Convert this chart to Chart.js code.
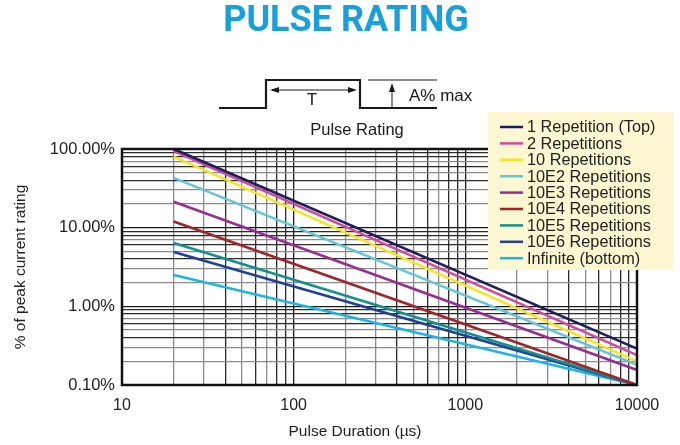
<!DOCTYPE html>
<html>
<head>
<meta charset="utf-8">
<script src="https://cdn.jsdelivr.net/npm/chart.js@4/dist/chart.umd.min.js"></script>
<style>
  body { margin: 0; background: #fff; }
  .chart { position: relative; width: 680px; height: 445px; }
</style>
</head>
<body>
<div class="chart"><canvas class="chart__chart"></canvas></div>
<script>
// pulse duration (µs) where each curve starts and ends
const durations = [20, 10000];

const seriesNames = [
    "1 Repetition (Top)", "2 Repetitions", "10 Repetitions",
    "10E2 Repetitions", "10E3 Repetitions", "10E4 Repetitions",
    "10E5 Repetitions", "10E6 Repetitions", "Infinite (bottom)"
];

// % of peak current rating at 20 µs and at 10000 µs
const startPct = [100, 94, 80, 43, 21.4, 12, 6.4, 4.9, 2.5];
const endPct = [0.29, 0.24, 0.2, 0.18, 0.155, 0.1, 0.1, 0.1, 0.1];

const seriesColors = [
    "#1d1f5c", "#d4489c", "#f6e51c", "#62c6d9", "#982d91",
    "#a3232a", "#12908b", "#21409a", "#1cb5e5"
];

const xDecades = [10, 100, 1000, 10000];
const yDecades = [0.1, 1, 10, 100];

const FONT = "'Liberation Sans', Arial, sans-serif";

function logTicks(decades) {
    const out = [];
    for (let i = 0; i < decades.length - 1; i++) {
        for (let m = 1; m <= 9; m++) out.push({ value: m * decades[i] });
    }
    out.push({ value: decades[decades.length - 1] });
    return out;
}

function isDecade(v, decades) {
    return decades.some(d => Math.abs(d - v) < d * 1e-6);
}

function gridColor(v) {
    const m = Math.round(v / Math.pow(10, Math.floor(Math.log10(v) + 1e-9)));
    if (m === 1) return "#1a1a1a";
    if ([2, 3, 5, 7].includes(m)) return "#8c8c8c";
    return "#2b2b2b";
}

function arrowHead(ctx, x, y, dir) {
    // dir: 'left' | 'right' | 'up'
    ctx.beginPath();
    if (dir === "left") { ctx.moveTo(x, y); ctx.lineTo(x + 9, y - 3); ctx.lineTo(x + 9, y + 3); }
    if (dir === "right") { ctx.moveTo(x, y); ctx.lineTo(x - 9, y - 3); ctx.lineTo(x - 9, y + 3); }
    if (dir === "up") { ctx.moveTo(x, y); ctx.lineTo(x - 3, y + 9); ctx.lineTo(x + 3, y + 9); }
    ctx.closePath();
    ctx.fill();
}

const decor = {
    id: "decor",
    afterDraw: (chart) => {
        const { ctx, chartArea: a } = chart;
        ctx.save();

        // frame round the plot
        ctx.strokeStyle = "#111";
        ctx.lineWidth = 2.5;
        ctx.strokeRect(a.left, a.top, a.right - a.left, a.bottom - a.top);

        // title
        ctx.fillStyle = "#199fdb";
        ctx.font = "bold 36px Roboto, " + FONT;
        ctx.textAlign = "center";
        ctx.textBaseline = "middle";
        ctx.fillText("PULSE RATING", 346, 22);

        // x axis title
        ctx.fillStyle = "#222";
        ctx.font = "15.5px " + FONT;
        ctx.fillText("Pulse Duration (µs)", 355, 432);

        // pulse sketch
        ctx.strokeStyle = "#1a1a1a";
        ctx.fillStyle = "#1a1a1a";
        ctx.lineWidth = 2.2;
        ctx.beginPath();
        ctx.moveTo(219, 108);
        ctx.lineTo(266, 108);
        ctx.lineTo(266, 80);
        ctx.lineTo(360, 80);
        ctx.lineTo(360, 108);
        ctx.lineTo(437, 108);
        ctx.stroke();

        ctx.lineWidth = 1;
        ctx.beginPath();
        ctx.moveTo(368, 80); ctx.lineTo(437, 80);
        ctx.moveTo(272, 90); ctx.lineTo(354, 90);
        ctx.moveTo(392, 108); ctx.lineTo(392, 86);
        ctx.stroke();
        arrowHead(ctx, 270, 90, "left");
        arrowHead(ctx, 357, 90, "right");
        arrowHead(ctx, 392, 83, "up");

        ctx.font = "17px " + FONT;
        ctx.fillText("T", 312, 100);
        ctx.textAlign = "left";
        ctx.fillText("A% max", 409, 96);
        ctx.textAlign = "center";
        ctx.font = "16.5px " + FONT;
        ctx.fillText("Pulse Rating", 357, 130);

        // legend box
        ctx.fillStyle = "#fdf8d2";
        ctx.fillRect(488, 112, 186, 158);
        ctx.font = "16.3px " + FONT;
        ctx.textAlign = "left";
        chart.data.datasets.forEach((ds, i) => {
            const y = 127 + i * 16.4;
            ctx.strokeStyle = ds.borderColor;
            ctx.lineWidth = 2.5;
            ctx.beginPath();
            ctx.moveTo(500, y);
            ctx.lineTo(523, y);
            ctx.stroke();
            ctx.fillStyle = "#222";
            ctx.fillText(ds.label, 527, y + 1);
        });

        ctx.restore();
    },
};

new Chart(document.querySelector(".chart__chart"), {
    type: "line",
    data: {
        datasets: seriesNames.map((name, i) => ({
            label: name,
            data: [
                { x: durations[0], y: startPct[i] },
                { x: durations[1], y: endPct[i] },
            ],
            borderColor: seriesColors[i],
            backgroundColor: seriesColors[i],
            borderWidth: 2.6,
            pointRadius: 0,
            tension: 0,
            clip: 3,
        })),
    },
    options: {
        responsive: true,
        maintainAspectRatio: false,
        animation: false,
        layout: { padding: { top: 149, left: 0, right: 43, bottom: 0 } },
        plugins: {
            legend: false,
            tooltip: { enabled: false },
        },
        scales: {
            x: {
                type: "logarithmic",
                min: 10,
                max: 10000,
                afterBuildTicks: (scale) => { scale.ticks = logTicks(xDecades); },
                afterFit: (scale) => { scale.height = 60; },
                border: { display: false },
                grid: {
                    drawTicks: false,
                    lineWidth: 1.3,
                    color: (c) => gridColor(c.tick.value),
                },
                ticks: {
                    autoSkip: false,
                    maxRotation: 0,
                    padding: 11,
                    color: "#222",
                    font: { family: FONT, size: 16 },
                    callback: (v) => isDecade(v, xDecades) ? String(v) : "",
                },
            },
            y: {
                type: "logarithmic",
                min: 0.1,
                max: 100,
                afterBuildTicks: (scale) => { scale.ticks = logTicks(yDecades); },
                afterFit: (scale) => { scale.width = 122; },
                border: { display: false },
                grid: {
                    drawTicks: false,
                    lineWidth: 1.3,
                    color: (c) => gridColor(c.tick.value),
                },
                ticks: {
                    autoSkip: false,
                    padding: 7,
                    color: "#222",
                    font: { family: FONT, size: 16.5 },
                    callback: (v) => isDecade(v, yDecades) ? v.toFixed(2) + "%" : "",
                },
                title: {
                    display: true,
                    text: "% of peak current rating",
                    color: "#222",
                    font: { family: FONT, size: 15.5 },
                    padding: { top: 11, bottom: 0 },
                },
            },
        },
    },
    plugins: [decor],
});
</script>
</body>
</html>
